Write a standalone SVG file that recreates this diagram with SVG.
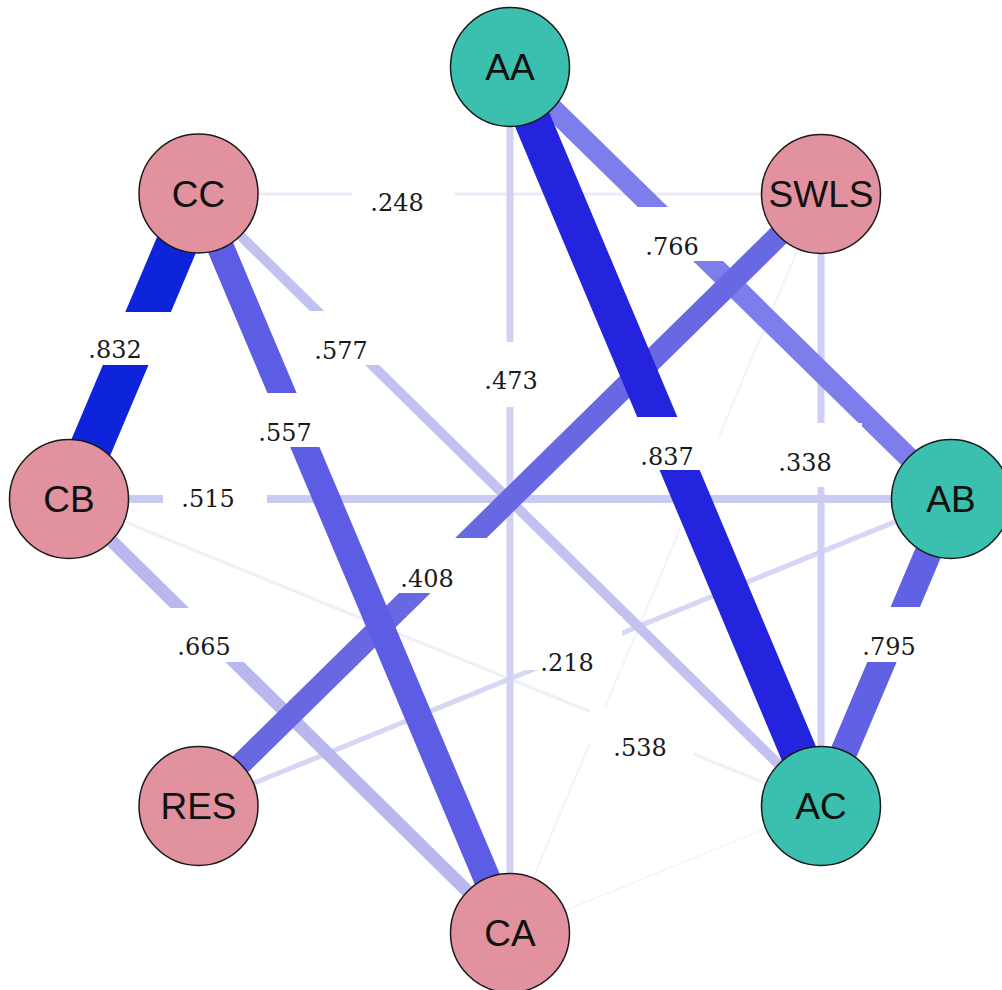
<svg xmlns="http://www.w3.org/2000/svg" width="1002" height="990" viewBox="0 0 1002 990">
<style>
.e{fill:none;stroke-linecap:butt}
.bg{fill:#ffffff}
.el{font-family:"DejaVu Serif","Liberation Serif",serif;font-size:24px;fill:#1a1a1a;text-anchor:middle}
.n circle{stroke:#1a1a1a;stroke-width:1.5}
.pink{fill:#e2929f}
.teal{fill:#3bbfae}
.nl{font-family:"Liberation Sans",Arial,sans-serif;font-size:37px;fill:#111111;text-anchor:middle}
</style>
<rect width="1002" height="990" fill="#ffffff"/>
<g id="connectors">
  <line class="e" x1="510" y1="933" x2="821" y2="806" stroke="#f6f6fb" stroke-width="2"/>
  <line class="e" x1="510" y1="933" x2="821" y2="194" stroke="#f3f3fb" stroke-width="2"/>
  <line class="e" x1="69" y1="499" x2="821" y2="806" stroke="#efeffa" stroke-width="3"/>
  <line class="e" x1="198" y1="194" x2="821" y2="194" stroke="#ebebf8" stroke-width="3"/>
  <line class="e" x1="198" y1="806" x2="951" y2="499" stroke="#d6d6f5" stroke-width="5"/>
  <line class="e" x1="821" y1="194" x2="821" y2="806" stroke="#cfcff3" stroke-width="7"/>
  <line class="e" x1="510" y1="67" x2="510" y2="933" stroke="#d2d2f4" stroke-width="7"/>
  <line class="e" x1="69" y1="499" x2="951" y2="499" stroke="#cacaf2" stroke-width="8"/>
  <line class="e" x1="198" y1="194" x2="821" y2="806" stroke="#c2c2f0" stroke-width="10"/>
  <line class="e" x1="69" y1="499" x2="510" y2="933" stroke="#b8b8ee" stroke-width="13"/>
  <line class="e" x1="510" y1="67" x2="951" y2="499" stroke="#7d7deb" stroke-width="21"/>
  <line class="e" x1="821" y1="194" x2="198" y2="806" stroke="#6868e2" stroke-width="22"/>
  <line class="e" x1="951" y1="499" x2="821" y2="806" stroke="#6161e6" stroke-width="27"/>
  <line class="e" x1="198" y1="194" x2="510" y2="933" stroke="#5c5ce4" stroke-width="27"/>
  <line class="e" x1="510" y1="67" x2="821" y2="806" stroke="#2424de" stroke-width="37"/>
  <line class="e" x1="198" y1="194" x2="69" y2="499" stroke="#0d24da" stroke-width="42"/>
</g>
<g id="edge-labels">
  <rect class="bg" x="352" y="175" width="103" height="54"/>
  <text class="el" x="397" y="211">.248</text>
  <rect class="bg" x="60" y="312" width="120" height="53"/>
  <text class="el" x="115" y="358">.832</text>
  <rect class="bg" x="290" y="311" width="104" height="54"/>
  <text class="el" x="341" y="359">.577</text>
  <rect class="bg" x="233" y="393" width="104" height="54"/>
  <text class="el" x="285" y="441">.557</text>
  <rect class="bg" x="459" y="342" width="104" height="65"/>
  <text class="el" x="511" y="389">.473</text>
  <rect class="bg" x="620" y="207" width="104" height="54"/>
  <text class="el" x="672" y="255">.766</text>
  <rect class="bg" x="615" y="417" width="104" height="53"/>
  <text class="el" x="667" y="465">.837</text>
  <rect class="bg" x="757" y="423" width="105" height="64"/>
  <text class="el" x="805" y="471">.338</text>
  <rect class="bg" x="163" y="460" width="104" height="54"/>
  <text class="el" x="208" y="507">.515</text>
  <rect class="bg" x="382" y="538" width="108" height="55"/>
  <text class="el" x="427" y="587">.408</text>
  <rect class="bg" x="152" y="608" width="104" height="54"/>
  <text class="el" x="204" y="655">.665</text>
  <rect class="bg" x="519" y="616" width="103" height="54"/>
  <text class="el" x="567" y="671">.218</text>
  <rect class="bg" x="837" y="607" width="104" height="55"/>
  <text class="el" x="889" y="655">.795</text>
  <rect class="bg" x="590" y="707" width="104" height="54"/>
  <text class="el" x="640" y="756">.538</text>
</g>
<g id="node-AA" class="n"><circle class="teal" cx="510" cy="67" r="59.5"/><text class="nl" x="510" y="80">AA</text></g>
<g id="node-CC" class="n"><circle class="pink" cx="198.5" cy="193.5" r="59.5"/><text class="nl" x="198.5" y="207">CC</text></g>
<g id="node-SWLS" class="n"><circle class="pink" cx="821" cy="194" r="59.5"/><text class="nl" x="821" y="207">SWLS</text></g>
<g id="node-CB" class="n"><circle class="pink" cx="69" cy="499" r="59.5"/><text class="nl" x="69" y="512">CB</text></g>
<g id="node-AB" class="n"><circle class="teal" cx="951" cy="499" r="59.5"/><text class="nl" x="951" y="512">AB</text></g>
<g id="node-RES" class="n"><circle class="pink" cx="198.5" cy="806" r="59.5"/><text class="nl" x="198.5" y="819">RES</text></g>
<g id="node-AC" class="n"><circle class="teal" cx="821" cy="806" r="59.5"/><text class="nl" x="821" y="819">AC</text></g>
<g id="node-CA" class="n"><circle class="pink" cx="510" cy="933" r="59.5"/><text class="nl" x="510" y="946">CA</text></g>
</svg>
